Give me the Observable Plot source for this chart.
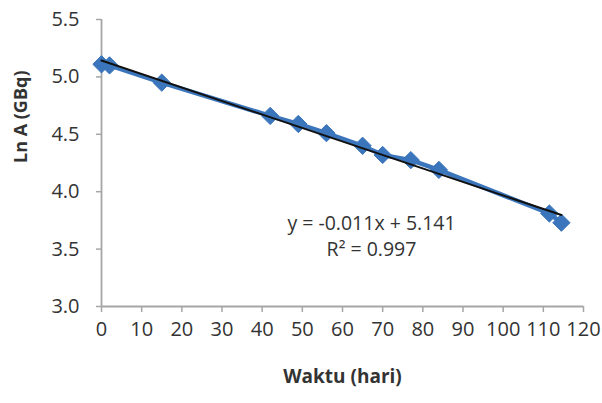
<!DOCTYPE html>
<html>
<head>
<meta charset="utf-8">
<script src="https://cdn.jsdelivr.net/npm/d3@7"></script>
<script src="https://cdn.jsdelivr.net/npm/@observablehq/plot@0.6"></script>
<style>
  html, body { margin: 0; padding: 0; background: #fff; }
</style>
</head>
<body>
<div id="chart"></div>
<script>
// Data
const days = [0, 2, 15, 42, 49, 56, 65, 70, 77, 84, 111.5, 114.5];
const lnA  = [5.11, 5.10, 4.95, 4.66, 4.59, 4.51, 4.40, 4.32, 4.275, 4.19, 3.81, 3.73];
const xTicks = [0, 10, 20, 30, 40, 50, 60, 70, 80, 90, 100, 110, 120];
const yTicks = [3.0, 3.5, 4.0, 4.5, 5.0, 5.5];
const xLabel = "Waktu (hari)";
const yLabel = "Ln A (GBq)";
const equationText = "y = -0.011x + 5.141";
const r2Text = "R² = 0.997";

const data = days.map((d, i) => ({x: d, y: lnA[i]}));
const blue = "#3b75bb";
const axisGray = "#a6a6a6";
const textColor = "#333333";
const yMin = yTicks[0], xMin = xTicks[0];

const chart = Plot.plot({
  width: 602,
  height: 403,
  marginLeft: 101,
  marginRight: 19,
  marginTop: 19,
  marginBottom: 97,
  style: {fontFamily: "'Open Sans', sans-serif", color: textColor, background: "#fff"},
  x: {domain: [0, 120], label: null},
  y: {domain: [3, 5.5], label: null},
  marks: [
    Plot.axisX({ticks: xTicks, tickSize: 6, stroke: axisGray, strokeWidth: 1.5, text: null, label: null}),
    Plot.axisY({ticks: yTicks, tickSize: 5, stroke: axisGray, strokeWidth: 1.5, text: null, label: null}),
    Plot.text(xTicks, {x: d => d, y: () => yMin, dy: 23, text: d => String(d), fontSize: 20, fill: textColor, lineAnchor: "middle"}),
    Plot.text(yTicks, {x: () => xMin, y: d => d, dx: -22, text: d => d3.format(".1f")(d), fontSize: 20, fill: textColor, textAnchor: "end", lineAnchor: "middle"}),
    Plot.ruleX([0], {stroke: axisGray, strokeWidth: 1.8}),
    Plot.ruleY([3], {stroke: axisGray, strokeWidth: 1.8}),
    Plot.line(data, {x: "x", y: "y", stroke: blue, strokeWidth: 4.5}),
    Plot.dot(data, {x: "x", y: "y", symbol: "diamond2", r: 7.8, fill: blue, stroke: blue, strokeWidth: 1}),
    Plot.linearRegressionY(data, {x: "x", y: "y", stroke: "#111", strokeWidth: 2, ci: 0}),
    Plot.text([equationText + "\n" + r2Text], {frameAnchor: "top-left", dx: 270, dy: 215, textAnchor: "middle", lineAnchor: "middle", lineHeight: 1.35, fontSize: 19.5, fill: textColor}),
    Plot.text([yLabel], {frameAnchor: "left", dx: -80, rotate: -90, fontWeight: "bold", fontSize: 18, fill: textColor}),
    Plot.text([xLabel], {frameAnchor: "bottom", dy: 76, fontWeight: "bold", fontSize: 19, fill: textColor})
  ]
});
document.getElementById("chart").appendChild(chart);
</script>
</body>
</html>
